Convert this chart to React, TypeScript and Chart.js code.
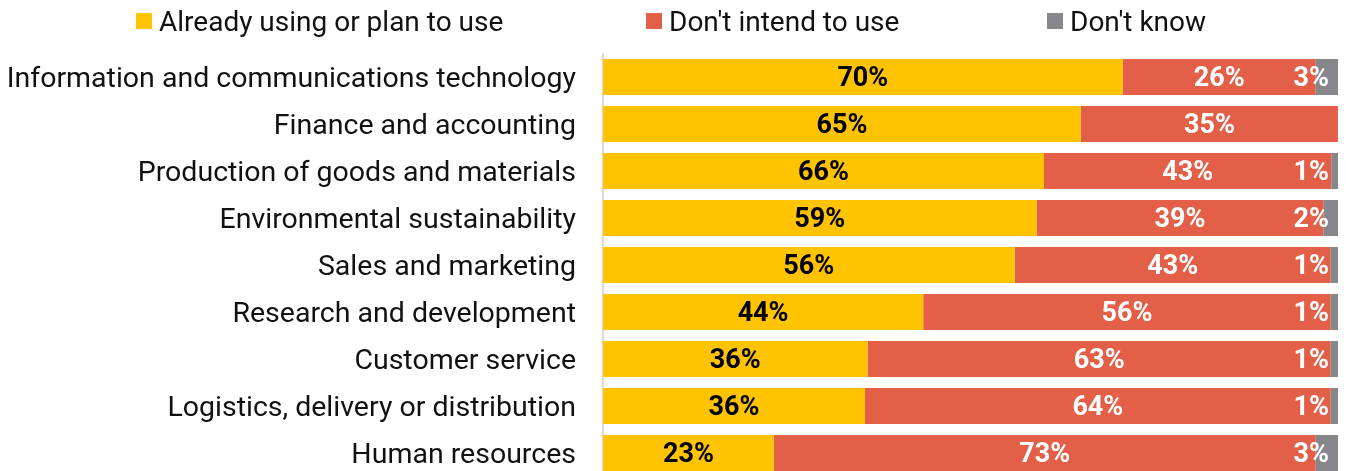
import React, { useEffect, useRef } from "react";
import { Chart, registerables } from "chart.js";

Chart.register(...registerables);

const categories = [
  "Information and communications technology",
  "Finance and accounting",
  "Production of goods and materials",
  "Environmental sustainability",
  "Sales and marketing",
  "Research and development",
  "Customer service",
  "Logistics, delivery or distribution",
  "Human resources",
];
const seriesNames = ["Already using or plan to use", "Don't intend to use", "Don't know"];
const alreadyUsing = [70, 65, 66, 59, 56, 44, 36, 36, 23];
const dontIntend = [26, 35, 43, 39, 43, 56, 63, 64, 73];
const dontKnow = [3, 0, 1, 2, 1, 1, 1, 1, 3];
const colors = ["#FFC300", "#E45F48", "#87878B"];
const labelColors = ["#000000", "#FFFFFF", "#FFFFFF"];

const FONT = "Roboto, 'Noto Sans', sans-serif";

const raw = [alreadyUsing, dontIntend, dontKnow];
const totals = categories.map((_, i) => raw.reduce((s, arr) => s + arr[i], 0));
const shares = raw.map((arr) => arr.map((v, i) => (v / totals[i]) * 100));

const valueLabelPlugin = {
  id: "valueLabels",
  afterDatasetsDraw(chart: any) {
    const ctx = chart.ctx;
    ctx.save();
    ctx.font = `bold 27px ${FONT}`;
    ctx.textBaseline = "middle";
    chart.data.datasets.forEach((ds: any, di: number) => {
      const meta = chart.getDatasetMeta(di);
      meta.data.forEach((bar: any, i: number) => {
        const v = raw[di][i];
        if (!v) return;
        const text = `${v}%`;
        ctx.fillStyle = labelColors[di];
        if (di === 2) {
          ctx.textAlign = "right";
          ctx.fillText(text, bar.x - 9, bar.y + 2.5);
        } else {
          ctx.textAlign = "center";
          ctx.fillText(text, (bar.x + bar.base) / 2, bar.y + 2.5);
        }
      });
    });
    ctx.restore();
  },
};

const legendPlugin = {
  id: "customLegend",
  afterDraw(chart: any) {
    const ctx = chart.ctx;
    const starts = [136, 646, 1047];
    ctx.save();
    ctx.font = `28px ${FONT}`;
    ctx.textBaseline = "middle";
    ctx.textAlign = "left";
    chart.data.datasets.forEach((ds: any, di: number) => {
      const x = starts[di];
      ctx.fillStyle = ds.backgroundColor;
      ctx.fillRect(x, 13, 16, 16);
      ctx.fillStyle = "#111111";
      ctx.fillText(ds.label, x + 23, 24);
    });
    ctx.restore();
  },
};

export default function App() {
  const ref = useRef<HTMLCanvasElement | null>(null);
  useEffect(() => {
    if (!ref.current) return;
    const chart = new Chart(ref.current, {
      type: "bar",
      data: {
        labels: categories,
        datasets: seriesNames.map((name, di) => ({
          label: name,
          data: shares[di],
          backgroundColor: colors[di],
          borderWidth: 0,
          barPercentage: 36 / 47,
          categoryPercentage: 1,
        })),
      },
      options: {
        indexAxis: "y",
        animation: false,
        responsive: false,
        maintainAspectRatio: false,
        devicePixelRatio: 1,
        layout: { padding: { top: 53.5, right: 8, bottom: 3.5, left: 0 } },
        plugins: {
          legend: { display: false },
          tooltip: { enabled: false },
        },
        scales: {
          x: { stacked: true, min: 0, max: 100, display: false },
          y: {
            stacked: true,
            grid: { display: false, drawTicks: false },
            border: { display: true, color: "#DADADA", width: 2 },
            ticks: {
              padding: 27,
              labelOffset: 3,
              color: "#111111",
              font: { family: FONT, size: 28.5 },
            },
            afterFit(scale: any) {
              scale.width = 603;
              scale.paddingTop = 0;
              scale.paddingBottom = 0;
            },
          },
        },
      },
      plugins: [valueLabelPlugin, legendPlugin],
    });
    return () => chart.destroy();
  }, []);
  return (
    <div style={{ position: "fixed", left: 0, top: 0, width: 1346, height: 480, background: "#fff", overflow: "hidden" }}>
      <canvas ref={ref} width={1346} height={480} style={{ display: "block", width: 1346, height: 480 }} />
    </div>
  );
}
